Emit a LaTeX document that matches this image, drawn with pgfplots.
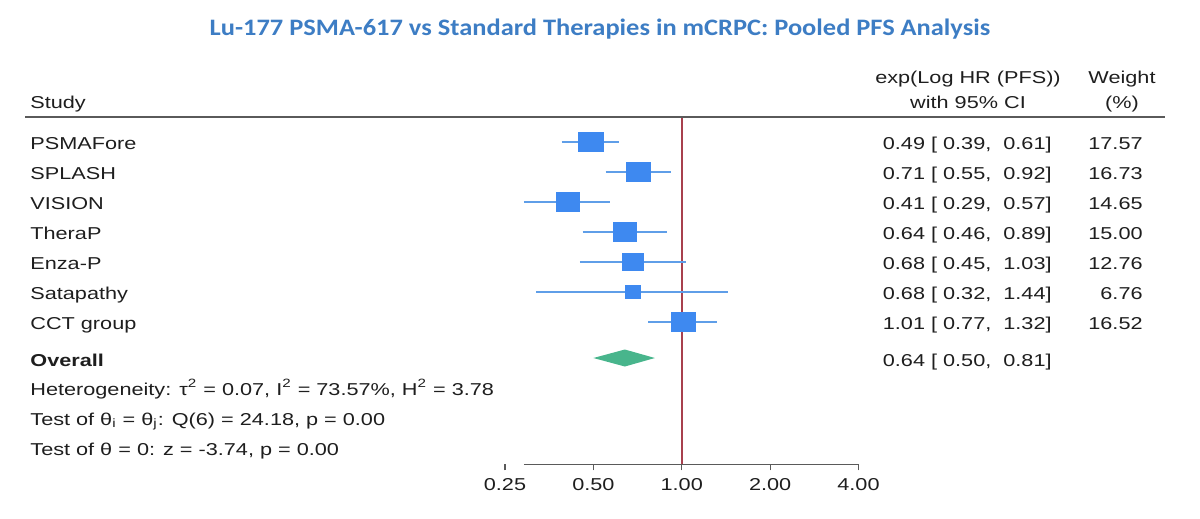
\documentclass[border=0pt]{standalone}
\usepackage{fontspec}
\setmainfont{Liberation Sans}[FakeStretch=1.26]
\newfontfamily\titlefont{Carlito}[FakeStretch=1.12]
\usepackage{pgfplots}
\pgfplotsset{compat=1.18}
\definecolor{titleblue}{RGB}{61,125,196}
\definecolor{boxblue}{RGB}{62,137,240}
\definecolor{ciblue}{RGB}{95,158,232}
\definecolor{diamondgreen}{RGB}{72,181,140}
\definecolor{refred}{RGB}{168,64,78}
\definecolor{rulegray}{RGB}{90,90,90}
\definecolor{textblack}{RGB}{30,30,30}
\newcommand{\tf}{\fontsize{8.6}{10}\selectfont}
\pgfplotsset{box/.style={boxblue, only marks, mark=square*, mark options={xscale=1.25, fill=boxblue, draw=boxblue, line width=0.2pt}}}
\begin{document}
\begin{tikzpicture}
\path[use as bounding box] (0pt,0pt) rectangle (600pt,-259.5pt);
\begin{axis}[
  at={(252.5pt,-232.15pt)}, anchor=south west,
  scale only axis, width=176.75pt, height=173.5pt,
  xmode=log, log basis x=2, xmin=0.25, xmax=4,
  ymin=117.3, ymax=464.3, y dir=reverse,
  enlargelimits=false, clip=false,
  axis line style={draw=none},
  ytick=\empty,
  xtick={0.25,0.5,1,2,4},
  xticklabels={0.25,0.50,1.00,2.00,4.00},
  xtick pos=bottom, tick align=outside, major tick length=3pt,
  xtick style={draw=rulegray, line width=0.6pt},
  xticklabel style={font=\tf, text=textblack, yshift=-0.5pt},
  /pgf/number format/assume math mode=true,
]
% axis line
\addplot[rulegray, line width=0.65pt] coordinates {(0.29,464.3) (4,464.3)};
% reference line at HR = 1
\addplot[refred, line width=1pt] coordinates {(1,117.3) (1,464.3)};
% confidence intervals
\addplot[ciblue, line width=1pt] coordinates {(0.39,141.7) (0.61,141.7)};
\addplot[ciblue, line width=1pt] coordinates {(0.55,171.7) (0.92,171.7)};
\addplot[ciblue, line width=1pt] coordinates {(0.29,201.7) (0.57,201.7)};
\addplot[ciblue, line width=1pt] coordinates {(0.46,231.7) (0.89,231.7)};
\addplot[ciblue, line width=1pt] coordinates {(0.45,261.7) (1.03,261.7)};
\addplot[ciblue, line width=1pt] coordinates {(0.32,291.7) (1.44,291.7)};
\addplot[ciblue, line width=1pt] coordinates {(0.77,321.7) (1.32,321.7)};
% weighted boxes
\addplot[box, mark size=4.99pt] coordinates {(0.49,141.7)};
\addplot[box, mark size=4.87pt] coordinates {(0.71,171.7)};
\addplot[box, mark size=4.56pt] coordinates {(0.41,201.7)};
\addplot[box, mark size=4.61pt] coordinates {(0.64,231.7)};
\addplot[box, mark size=4.25pt] coordinates {(0.68,261.7)};
\addplot[box, mark size=3.09pt] coordinates {(0.68,291.7)};
\addplot[box, mark size=4.84pt] coordinates {(1.01,321.7)};
% overall diamond
\addplot[fill=diamondgreen, draw=none] coordinates {(0.50,358) (0.64,349.5) (0.81,358) (0.64,366.5)} -- cycle;
\end{axis}
\begin{scope}[x=0.5pt, y=-0.5pt, every node/.style={inner sep=0pt, text=textblack, font=\tf}]
\node[anchor=base, text=titleblue, font=\titlefont\bfseries\fontsize{11.8}{14}\selectfont] at (600,36) {Lu-177 PSMA-617 vs Standard Therapies in mCRPC: Pooled PFS Analysis};
\draw[rulegray, line width=1pt] (25,117.3) -- (1165,117.3);
\node[anchor=base west] at (30,108.3) {Study};
\node[anchor=base] at (968,84) {exp(Log HR (PFS))};
\node[anchor=base] at (968,108.3) {with 95\% CI};
\node[anchor=base] at (1122,84) {Weight};
\node[anchor=base] at (1122,108.3) {(\%)};
% study names
\node[anchor=base west] at (30,149) {PSMAFore};
\node[anchor=base west] at (30,179) {SPLASH};
\node[anchor=base west] at (30,209) {VISION};
\node[anchor=base west] at (30,239) {TheraP};
\node[anchor=base west] at (30,269) {Enza-P};
\node[anchor=base west] at (30,299) {Satapathy};
\node[anchor=base west] at (30,329) {CCT group};
\node[anchor=base west, font=\tf\bfseries] at (30,366) {Overall};
\node[anchor=base west] at (30,395) {Heterogeneity: τ\textsuperscript{2} = 0.07, I\textsuperscript{2} = 73.57\%, H\textsuperscript{2} = 3.78};
\node[anchor=base west] at (30,425) {Test of θ\textsubscript{i} = θ\textsubscript{j}: Q(6) = 24.18, p = 0.00};
\node[anchor=base west] at (30,455) {Test of θ = 0: z = -3.74, p = 0.00};
% estimates
\node[anchor=base east] at (1052,149) {0.49 [ 0.39,\ \ 0.61]};
\node[anchor=base east] at (1052,179) {0.71 [ 0.55,\ \ 0.92]};
\node[anchor=base east] at (1052,209) {0.41 [ 0.29,\ \ 0.57]};
\node[anchor=base east] at (1052,239) {0.64 [ 0.46,\ \ 0.89]};
\node[anchor=base east] at (1052,269) {0.68 [ 0.45,\ \ 1.03]};
\node[anchor=base east] at (1052,299) {0.68 [ 0.32,\ \ 1.44]};
\node[anchor=base east] at (1052,329) {1.01 [ 0.77,\ \ 1.32]};
\node[anchor=base east] at (1052,366) {0.64 [ 0.50,\ \ 0.81]};
% weights
\node[anchor=base east] at (1143,149) {17.57};
\node[anchor=base east] at (1143,179) {16.73};
\node[anchor=base east] at (1143,209) {14.65};
\node[anchor=base east] at (1143,239) {15.00};
\node[anchor=base east] at (1143,269) {12.76};
\node[anchor=base east] at (1143,299) {6.76};
\node[anchor=base east] at (1143,329) {16.52};
\end{scope}
\end{tikzpicture}
\end{document}
